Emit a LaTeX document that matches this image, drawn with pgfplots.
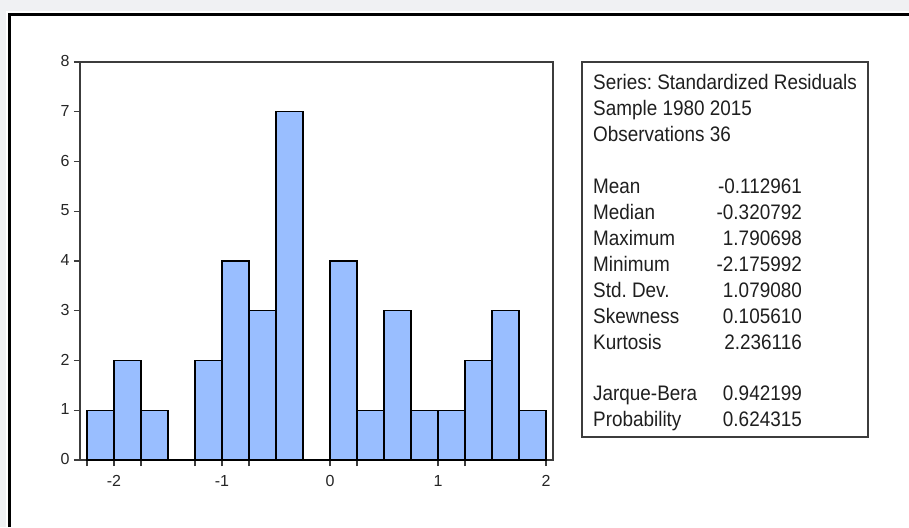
\documentclass[border=0pt]{standalone}
\usepackage{fontspec}
\setmainfont[FakeStretch=0.9]{Liberation Sans}
\newfontfamily\tickfont{Liberation Sans}
\usepackage{pgfplots}
\pgfplotsset{compat=1.18}
\definecolor{barfill}{RGB}{153,190,255}
\definecolor{bggray}{RGB}{240,241,243}
\definecolor{axgray}{RGB}{60,60,60}
\frenchspacing
\newcommand{\tl}{\tickfont\fontsize{16}{18}\selectfont}
\begin{document}
\begin{tikzpicture}[x=1pt,y=1pt]
\useasboundingbox (0,0) rectangle (909,527);
\fill[bggray] (0,0) rectangle (909,527);
\fill[white] (6,0) rectangle (909,516);
\draw[black, line width=3pt] (9.5,0) -- (9.5,512.5) -- (909,512.5);
\begin{axis}[
  at={(80pt,67pt)}, anchor=south west,
  scale only axis, width=473pt, height=398pt,
  xmin=-2.315, xmax=2.065, ymin=0, ymax=8,
  xtick={-2,-1,0,1,2},
  minor xtick={-2.25,-1.75,-1.25,-0.75,0.25,1.25},
  ytick={0,1,2,3,4,5,6,7,8},
  xticklabels={{\tl -2},{\tl -1},{\tl 0},{\tl 1},{\tl 2}},
  yticklabels={{\tl 0},{\tl 1},{\tl 2},{\tl 3},{\tl 4},{\tl 5},{\tl 6},{\tl 7},{\tl 8}},
  xtick pos=bottom, ytick pos=left,
  tick align=outside,
  major tick length=6pt, minor tick length=6pt,
  axis line style={draw=axgray, line width=1.6pt},
  every tick/.style={draw=axgray, line width=1.3pt},
  every minor tick/.style={draw=axgray, line width=1.3pt},
  ticklabel style={text=black!85},
  xticklabel style={yshift=-6pt},
  yticklabel style={xshift=-1pt, yshift=1pt},
  clip=false,
]
\addplot[ybar interval, fill=barfill, draw=black, line width=1.3pt] coordinates {
(-2.25,1) (-2.0,2) (-1.75,1) (-1.5,0) (-1.25,2) (-1.0,4) (-0.75,3) (-0.5,7)
(-0.25,0) (0.0,4) (0.25,1) (0.5,3) (0.75,1) (1.0,1) (1.25,2) (1.5,3) (1.75,1) (2.0,1)
};
\end{axis}
\draw[axgray, line width=1.6pt] (582,90) rectangle (868,465);
\begin{scope}[every node/.style={font=\fontsize{21}{24}\selectfont, text=black!88, inner sep=0pt}]
\node[anchor=base west] at (593,437) {Series: Standardized Residuals};
\node[anchor=base west] at (593,411) {Sample 1980 2015};
\node[anchor=base west] at (593,385) {Observations 36};
\node[anchor=base west] at (593,333) {Mean};
\node[anchor=base west] at (593,307) {Median};
\node[anchor=base west] at (593,281.2) {Maximum};
\node[anchor=base west] at (593,255.3) {Minimum};
\node[anchor=base west] at (593,229.4) {Std. Dev.};
\node[anchor=base west] at (593,203.5) {Skewness};
\node[anchor=base west] at (593,177.6) {Kurtosis};
\node[anchor=base west] at (593,126) {Jarque-Bera};
\node[anchor=base west] at (593,100) {Probability};
\node[anchor=base east] at (802,333) {-0.112961};
\node[anchor=base east] at (802,307) {-0.320792};
\node[anchor=base east] at (802,281.2) {1.790698};
\node[anchor=base east] at (802,255.3) {-2.175992};
\node[anchor=base east] at (802,229.4) {1.079080};
\node[anchor=base east] at (802,203.5) {0.105610};
\node[anchor=base east] at (802,177.6) {2.236116};
\node[anchor=base east] at (802,126) {0.942199};
\node[anchor=base east] at (802,100) {0.624315};
\end{scope}
\end{tikzpicture}
\end{document}
